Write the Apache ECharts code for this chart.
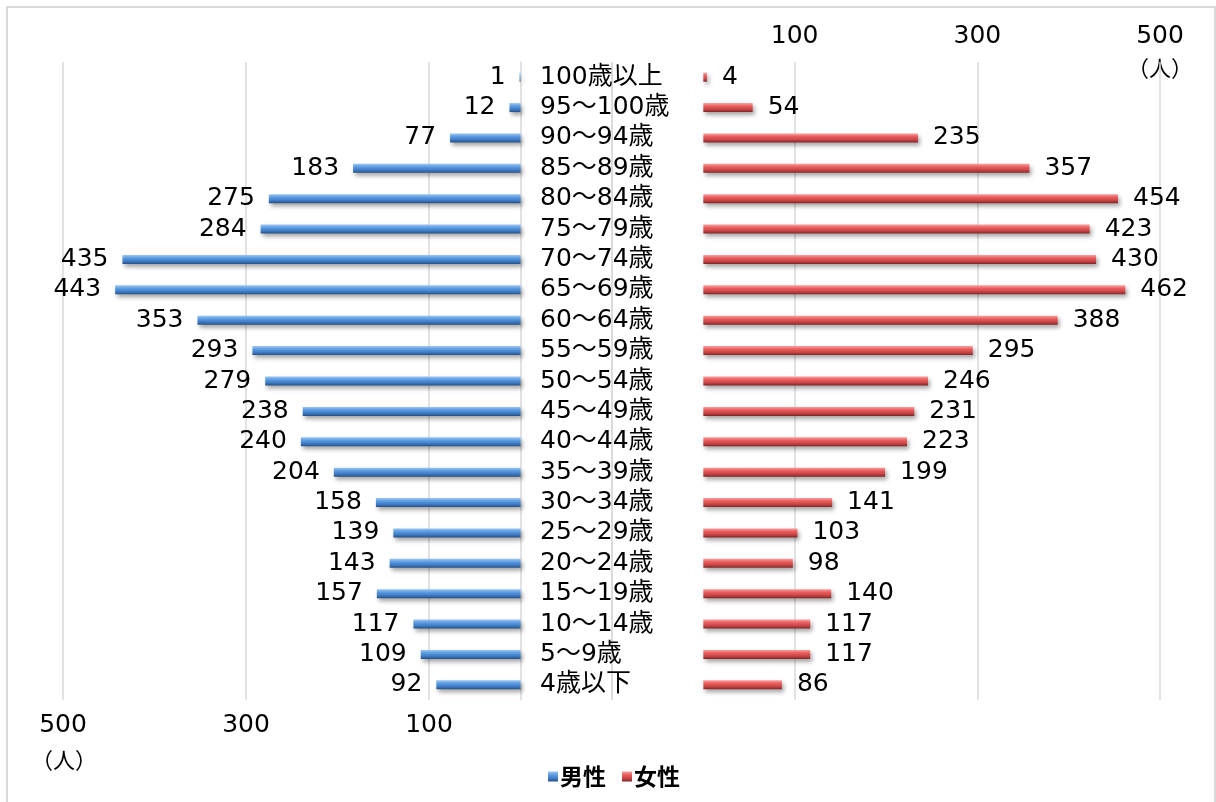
<!DOCTYPE html>
<html>
<head>
<meta charset="utf-8">
<script src="https://cdn.jsdelivr.net/npm/echarts@6/dist/echarts.min.js"></script>
<style>html,body{margin:0;padding:0;background:#fff;}#c{width:1216px;height:802px;}</style>
</head>
<body>
<div id="c"></div>
<script>
const categories = ['100歳以上','95～100歳','90～94歳','85～89歳','80～84歳','75～79歳','70～74歳','65～69歳','60～64歳','55～59歳','50～54歳','45～49歳','40～44歳','35～39歳','30～34歳','25～29歳','20～24歳','15～19歳','10～14歳','5～9歳','4歳以下'];
const male = [1,12,77,183,275,284,435,443,353,293,279,238,240,204,158,139,143,157,117,109,92];
const female = [4,54,235,357,454,423,430,462,388,295,246,231,223,199,141,103,98,140,117,117,86];
const axisMin = -100, axisMax = 500, axisStep = 200;
const unitLabel = '（人）';

const FONT = '"DejaVu Sans","Noto Sans CJK JP",sans-serif';
const grey = '#d9d9d9';
const blueGrad = new echarts.graphic.LinearGradient(0,0,0,1,[
  {offset:0,color:'#9cc6f2'},{offset:0.35,color:'#5b9be0'},{offset:0.7,color:'#3d7bc6'},{offset:1,color:'#284f80'}]);
const redGrad = new echarts.graphic.LinearGradient(0,0,0,1,[
  {offset:0,color:'#f8a0a0'},{offset:0.35,color:'#ea5c5c'},{offset:0.7,color:'#c84444'},{offset:1,color:'#7e2626'}]);
const shadow = {shadowColor:'rgba(0,0,0,0.35)',shadowBlur:4,shadowOffsetX:2,shadowOffsetY:3};
const tickFmt = v => v < 0 ? '' : String(v);

const chart = echarts.init(document.getElementById('c'), null, {renderer:'canvas'});
chart.setOption({
  animation:false,
  backgroundColor:'#fff',
  textStyle:{fontFamily:FONT},
  grid:[
    {left:63, width:549, top:62, height:638},
    {left:612, width:548, top:62, height:638}
  ],
  legend:{
    data:[{name:'男性',itemStyle:{color:blueGrad}},{name:'女性',itemStyle:{color:redGrad}}],
    left:543, top:760, icon:'rect', itemWidth:10, itemHeight:10, itemGap:16,
    textStyle:{fontSize:23, fontWeight:'bold', color:'#000', fontFamily:'"Noto Sans CJK JP",sans-serif', padding:[0,0,0,-3]}
  },
  xAxis:[
    {type:'value', gridIndex:0, inverse:true, min:axisMin, max:axisMax, interval:axisStep, position:'bottom',
     axisLine:{show:false}, axisTick:{show:false},
     splitLine:{show:true, lineStyle:{color:grey, width:1.5}},
     axisLabel:{formatter:tickFmt, fontSize:25, color:'#000', margin:13, fontFamily:FONT}},
    {type:'value', gridIndex:1, min:axisMin, max:axisMax, interval:axisStep, position:'top',
     axisLine:{show:false}, axisTick:{show:false},
     splitLine:{show:true, lineStyle:{color:grey, width:1.5}},
     axisLabel:{formatter:tickFmt, fontSize:25, color:'#000', margin:13, fontFamily:FONT}}
  ],
  yAxis:[
    {type:'category', gridIndex:0, data:categories, inverse:true,
     axisLine:{show:true, onZero:true, lineStyle:{color:grey, width:1.5}},
     axisTick:{show:false}, axisLabel:{show:false}},
    {type:'category', gridIndex:1, data:categories, inverse:true,
     axisLine:{show:false}, axisTick:{show:false},
     axisLabel:{show:true, interval:0, align:'left', margin:72, fontSize:25, color:'#000', fontFamily:FONT}}
  ],
  series:[
    {name:'男性', type:'bar', xAxisIndex:0, yAxisIndex:0, data:male, barWidth:9,
     itemStyle:Object.assign({color:blueGrad}, shadow),
     label:{show:true, position:'left', distance:14, fontSize:25, color:'#000', fontFamily:FONT}},
    {name:'女性', type:'bar', xAxisIndex:1, yAxisIndex:1, data:female, barWidth:9,
     itemStyle:Object.assign({color:redGrad}, shadow),
     label:{show:true, position:'right', distance:15, fontSize:25, color:'#000', fontFamily:FONT}}
  ],
  graphic:[
    {type:'rect', shape:{x:7, y:7, width:1208, height:810}, style:{fill:'none', stroke:grey, lineWidth:2}, z:-1},
    {type:'text', x:64, y:760, style:{text:unitLabel, fill:'#000', align:'center', verticalAlign:'middle', fontSize:22, fontFamily:'"Noto Sans CJK JP"'}},
    {type:'text', x:1160, y:68, style:{text:unitLabel, fill:'#000', align:'center', verticalAlign:'middle', fontSize:22, fontFamily:'"Noto Sans CJK JP"'}}
  ]
});
</script>
</body>
</html>
